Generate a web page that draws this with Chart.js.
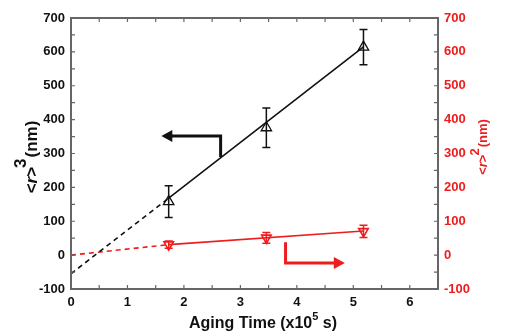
<!DOCTYPE html>
<html>
<head>
<meta charset="utf-8">
<script src="https://cdn.jsdelivr.net/npm/chart.js@4.4.1/dist/chart.umd.min.js"></script>
<style>
  html, body { margin: 0; padding: 0; background: #fff; }
  #wrap { width: 505px; height: 335px; }
</style>
</head>
<body>
<div id="wrap"><canvas id="agingChart" width="505" height="335"></canvas></div>
<script>
// measured points (x10^5 s)
const agingTime = [1.73, 3.46, 5.18];
const r3Mean = [158, 376, 614];
const r3Err = [47, 58, 52];
const r2Mean = [31, 51, 70];
const r2Err = [11, 16, 18];

// linear fits, dashed part is the extrapolation back to t = 0
const fitTime = [0, 1.73, 5.18];
const r3Fit = [-55, 168, 615];
const r2Fit = [0, 31, 71];

const xTicks = [0, 1, 2, 3, 4, 5, 6];
const yTicks = [-100, 0, 100, 200, 300, 400, 500, 600, 700];

// arrows telling which axis each line belongs to, in data units
const leftArrow = [[2.65, 290], [2.65, 352], [1.6, 352]];
const rightArrow = [[3.8, 38], [3.8, -23], [4.85, -23]];

const RED = '#ee1c1c';
const INK = '#111';
const FRAME = '#666';
const FONT = '"Liberation Sans", Arial, sans-serif';

const pts = (xs, ys) => xs.map((x, i) => ({ x: x, y: ys[i] }));
const dashBefore = (cut) => (ctx) => ctx.p1.parsed.x <= cut + 0.001 ? [5, 4] : undefined;

const ctx = document.getElementById('agingChart');

const errorBars = {
  id: 'errorBars',
  afterDatasetsDraw(chart) {
    const c = chart.ctx;
    const x = chart.scales.x;
    const sets = [
      { axis: chart.scales.y, mean: r3Mean, err: r3Err, color: INK },
      { axis: chart.scales.y2, mean: r2Mean, err: r2Err, color: RED }
    ];
    c.save();
    c.lineWidth = 1.5;
    sets.forEach(s => {
      c.strokeStyle = s.color;
      agingTime.forEach((t, i) => {
        const px = x.getPixelForValue(t);
        const top = s.axis.getPixelForValue(s.mean[i] + s.err[i]);
        const bot = s.axis.getPixelForValue(s.mean[i] - s.err[i]);
        c.beginPath();
        c.moveTo(px, top); c.lineTo(px, bot);
        c.moveTo(px - 4, top); c.lineTo(px + 4, top);
        c.moveTo(px - 4, bot); c.lineTo(px + 4, bot);
        c.stroke();
      });
    });
    c.restore();
  }
};

const frameAndArrows = {
  id: 'frameAndArrows',
  afterDraw(chart) {
    const c = chart.ctx;
    const a = chart.chartArea;
    const x = chart.scales.x, y = chart.scales.y;
    c.save();

    // inward ticks on all four sides
    c.strokeStyle = FRAME;
    c.lineWidth = 1.2;
    c.beginPath();
    for (let v = 0.5; v < 6.5; v += 0.5) {
      const px = x.getPixelForValue(v);
      c.moveTo(px, a.bottom); c.lineTo(px, a.bottom - 4);
      c.moveTo(px, a.top); c.lineTo(px, a.top + 4);
    }
    for (let v = -50; v < 700; v += 50) {
      const py = y.getPixelForValue(v);
      c.moveTo(a.left, py); c.lineTo(a.left + 4, py);
      c.moveTo(a.right, py); c.lineTo(a.right - 4, py);
    }
    c.stroke();

    c.lineWidth = 2;
    c.strokeRect(a.left, a.top, a.right - a.left, a.bottom - a.top);

    const drawArrow = (path, axis, color) => {
      const p = path.map(q => [x.getPixelForValue(q[0]), axis.getPixelForValue(q[1])]);
      const n = p.length;
      const [ex, ey] = p[n - 1];
      const [sx, sy] = p[n - 2];
      const ang = Math.atan2(ey - sy, ex - sx);
      const head = 11;
      c.strokeStyle = color;
      c.fillStyle = color;
      c.lineWidth = 3;
      c.lineJoin = 'miter';
      c.beginPath();
      c.moveTo(p[0][0], p[0][1]);
      for (let i = 1; i < n - 1; i++) c.lineTo(p[i][0], p[i][1]);
      c.lineTo(ex - Math.cos(ang) * head * 0.8, ey - Math.sin(ang) * head * 0.8);
      c.stroke();
      c.beginPath();
      c.moveTo(ex, ey);
      c.lineTo(ex - Math.cos(ang) * head + Math.sin(ang) * 6, ey - Math.sin(ang) * head - Math.cos(ang) * 6);
      c.lineTo(ex - Math.cos(ang) * head - Math.sin(ang) * 6, ey - Math.sin(ang) * head + Math.cos(ang) * 6);
      c.closePath();
      c.fill();
    };
    drawArrow(leftArrow, y, INK);
    drawArrow(rightArrow, chart.scales.y2, RED);

    // axis titles: <r>^n (nm), read bottom to top
    const title = (cx, cy, exp, color, size) => {
      c.save();
      c.translate(cx, cy);
      c.rotate(-Math.PI / 2);
      c.fillStyle = color;
      c.textBaseline = 'alphabetic';
      const big = 'bold ' + size + 'px ' + FONT;
      const ital = 'italic bold ' + size + 'px ' + FONT;
      const parts = [['<', big], ['r', ital], ['>', big]];
      c.font = big;
      let w = c.measureText('<>').width;
      c.font = ital; w += c.measureText('r').width;
      c.font = big;
      const tail = '  (nm)';
      const total = w + c.measureText(tail).width;
      let tx = -total / 2;
      parts.forEach(([s, f]) => { c.font = f; c.fillText(s, tx, 0); tx += c.measureText(s).width; });
      c.font = big;
      c.fillText(exp, tx - 1, -size * 0.62);
      c.fillText(tail, tx, 0);
      c.restore();
    };
    title(37, 157, '3', INK, 17);
    title(487, 147, '2', RED, 13);

    // x title with superscript
    c.fillStyle = INK;
    c.textBaseline = 'alphabetic';
    const s1 = 'Aging Time (x10', s2 = ' s)';
    c.font = 'bold 11px ' + FONT;
    const wSup = c.measureText('5').width;
    c.font = 'bold 16px ' + FONT;
    const w1 = c.measureText(s1).width, w2 = c.measureText(s2).width;
    let tx = 263 - (w1 + wSup + w2) / 2;
    c.fillText(s1, tx, 328); tx += w1;
    c.font = 'bold 11px ' + FONT;
    c.fillText('5', tx, 320); tx += wSup;
    c.font = 'bold 16px ' + FONT;
    c.fillText(s2, tx, 328);

    c.restore();
  }
};

new Chart(ctx, {
  type: 'scatter',
  data: {
    datasets: [
      {
        label: 'r3 fit',
        data: pts(fitTime, r3Fit),
        showLine: true,
        borderColor: INK,
        borderWidth: 1.6,
        pointRadius: 0,
        segment: { borderDash: dashBefore(1.73) },
        yAxisID: 'y'
      },
      {
        label: 'r2 fit',
        data: pts(fitTime, r2Fit),
        showLine: true,
        borderColor: RED,
        borderWidth: 1.6,
        pointRadius: 0,
        segment: { borderDash: dashBefore(1.73) },
        yAxisID: 'y2'
      },
      {
        label: '<r>^3',
        data: pts(agingTime, r3Mean),
        pointStyle: 'triangle',
        pointRadius: 6,
        pointBorderWidth: 1.3,
        pointBackgroundColor: '#fff',
        pointBorderColor: INK,
        yAxisID: 'y'
      },
      {
        label: '<r>^2',
        data: pts(agingTime, r2Mean),
        pointStyle: 'triangle',
        rotation: 180,
        pointRadius: 5.5,
        pointBorderWidth: 1.6,
        pointBackgroundColor: '#fff',
        pointBorderColor: RED,
        yAxisID: 'y2'
      }
    ]
  },
  options: {
    responsive: false,
    animation: false,
    layout: { padding: { top: 18, left: 0, right: 0, bottom: 0 } },
    plugins: { legend: { display: false }, tooltip: { enabled: false } },
    scales: {
      x: {
        type: 'linear',
        min: 0,
        max: 6.5,
        afterBuildTicks: s => { s.ticks = xTicks.map(v => ({ value: v })); },
        afterFit: s => { s.height = 46; },
        grid: { display: false, drawTicks: false },
        border: { display: false },
        ticks: { color: INK, font: { family: FONT, size: 13, weight: 'bold' }, padding: 6, maxRotation: 0 }
      },
      y: {
        position: 'left',
        min: -100,
        max: 700,
        afterBuildTicks: s => { s.ticks = yTicks.map(v => ({ value: v })); },
        afterFit: s => { s.width = 71; },
        grid: { display: false, drawTicks: false },
        border: { display: false },
        ticks: { color: INK, font: { family: FONT, size: 13, weight: 'bold' }, padding: 6 }
      },
      y2: {
        position: 'right',
        min: -100,
        max: 700,
        afterBuildTicks: s => { s.ticks = yTicks.map(v => ({ value: v })); },
        afterFit: s => { s.width = 67; },
        grid: { display: false, drawTicks: false },
        border: { display: false },
        ticks: { color: RED, font: { family: FONT, size: 13, weight: 'bold' }, padding: 6 }
      }
    }
  },
  plugins: [errorBars, frameAndArrows]
});
</script>
</body>
</html>
